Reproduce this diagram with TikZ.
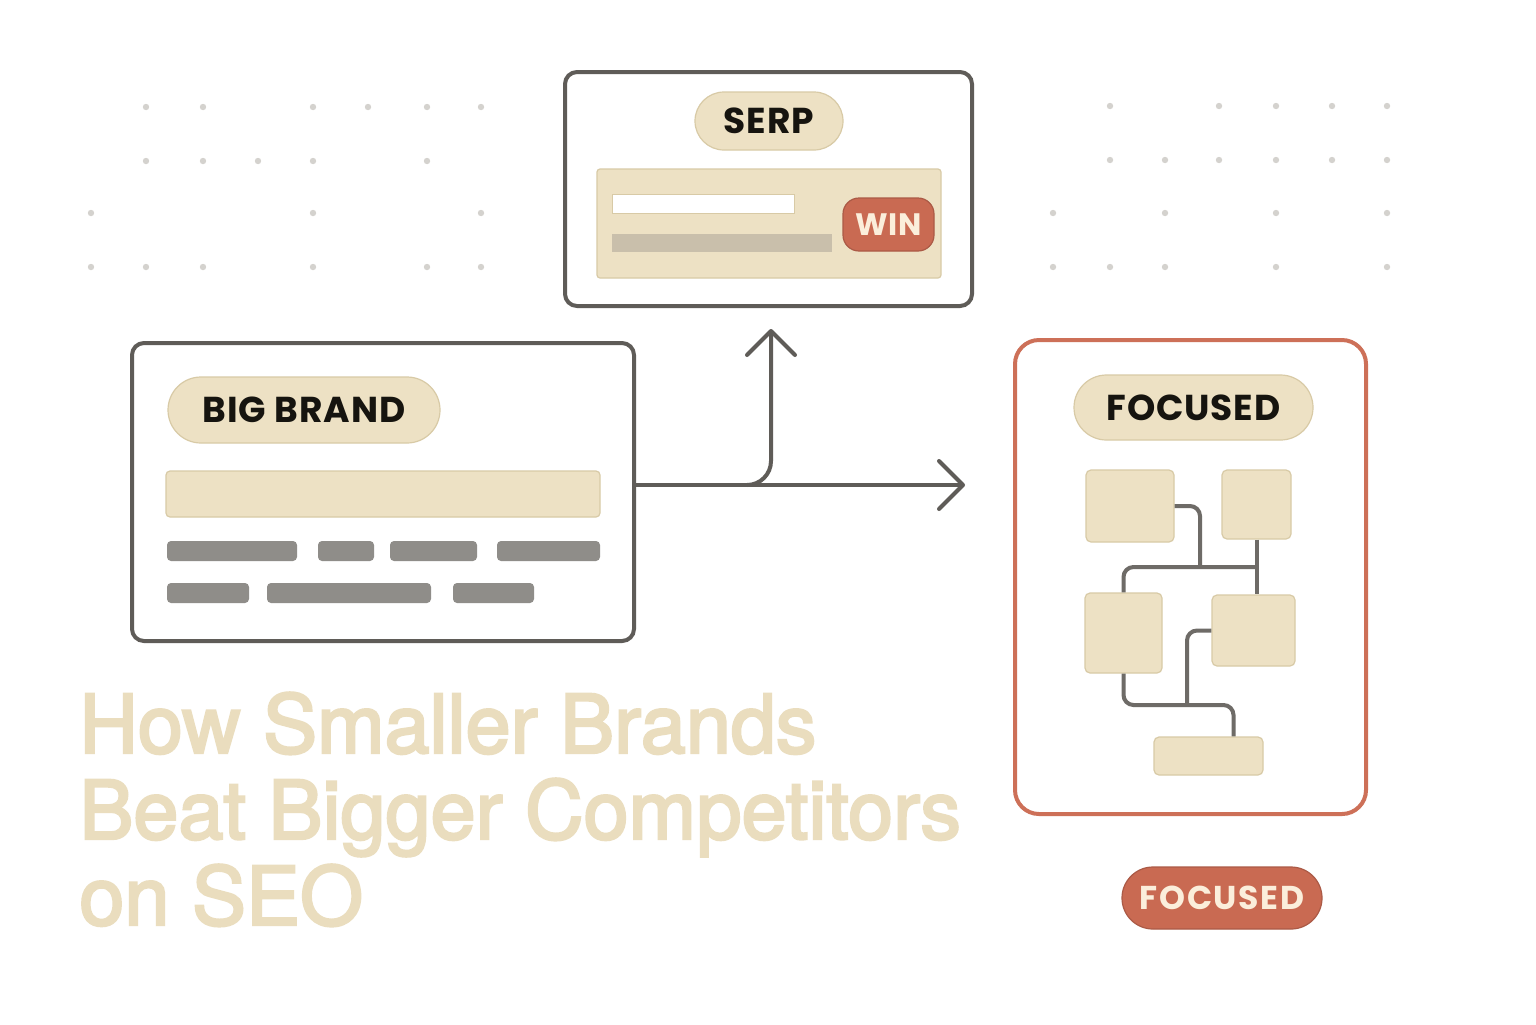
\documentclass[tikz,border=0pt]{standalone}
\usepackage{fontspec}
\setmainfont{TeX Gyre Heros}
\newfontfamily\labelfont[LetterSpace=2.5]{Poppins}
\newfontfamily\titlefont[FakeBold=3]{TeX Gyre Heros}
\usetikzlibrary{shapes.misc, arrows.meta, positioning}
\definecolor{edgegray}{HTML}{5F5C58}
\definecolor{wire}{HTML}{6E6B67}
\definecolor{sand}{HTML}{EDE1C4}
\definecolor{sandedge}{HTML}{D8CAA6}
\definecolor{barfill}{HTML}{8F8D89}
\definecolor{serpgray}{HTML}{C9BFAB}
\definecolor{rust}{HTML}{C96A52}
\definecolor{rustedge}{HTML}{CD7058}
\definecolor{cream}{HTML}{FBEEDB}
\definecolor{ink}{HTML}{16140F}
\definecolor{dotgray}{HTML}{D4D2CE}
\definecolor{titlesand}{HTML}{EADDBE}
\tikzset{
  panel/.style={draw=edgegray, line width=2pt, rounded corners=6pt, fill=white, inner sep=0pt},
  labeltag/.style={rounded rectangle, fill=sand, draw=sandedge, line width=0.6pt, inner sep=0pt, text=ink, font=\labelfont\bfseries\fontsize{18}{18}\selectfont},
  redtag/.style={fill=rust, draw=rust!85!black, line width=0.6pt, inner sep=0pt, text=cream, font=\labelfont\bfseries\fontsize{15.5}{15.5}\selectfont},
  greybar/.style={fill=barfill, rounded corners=2pt, inner sep=0pt, minimum height=10pt},
  block/.style={fill=sand, draw=sandedge, line width=0.6pt, rounded corners=2.5pt, inner sep=0pt},
  flow/.style={draw=edgegray, line width=2pt, -{Straight Barb[length=12pt, width=24pt, round]}},
  link/.style={draw=wire, line width=2pt, rounded corners=5pt},
  griddot/.style={fill=dotgray}
}

\begin{document}
\begin{tikzpicture}[x=0.5pt, y=-0.5pt]
  \useasboundingbox[fill=white] (0,0) rectangle (1536,1024);

  % Dot grids
  \foreach \px/\py in {146/107, 203/107, 313/107, 368/107, 427/107, 481/107, 146/161, 203/161, 258/161, 313/161, 427/161, 91/213, 313/213, 481/213, 91/267, 146/267, 203/267, 313/267, 427/267, 481/267}
    \fill[griddot] (\px,\py) circle[radius=1.6pt];
  \foreach \px/\py in {1110/106, 1219/106, 1276/106, 1332/106, 1387/106, 1110/160, 1165/160, 1219/160, 1276/160, 1332/160, 1387/160, 1053/213, 1165/213, 1276/213, 1387/213, 1053/267, 1110/267, 1165/267, 1276/267, 1387/267}
    \fill[griddot] (\px,\py) circle[radius=1.6pt];

  % SERP card
  \node[panel, minimum width=203.5pt, minimum height=117pt] (serp) at (768.5,189) {};
  \node[labeltag, minimum width=74pt, minimum height=29pt] (serptag) at (769,121) {SERP};
  \node[fill=sand, draw=sandedge, line width=0.6pt, rounded corners=1.5pt, inner sep=0pt, minimum width=172pt, minimum height=54.5pt] (result) at (769,223.5) {};
  \node[fill=white, draw=sandedge, line width=0.5pt, inner sep=0pt, minimum width=91pt, minimum height=9.5pt] (resulttitle) at (703,203.5) {};
  \node[fill=serpgray, inner sep=0pt, minimum width=110pt, minimum height=9pt] (resulttext) at (722,243) {};
  \node[redtag, rounded corners=8pt, minimum width=45.5pt, minimum height=26.5pt] (win) at (888.5,224.5) {WIN};

  % Big brand card
  \node[panel, minimum width=251pt, minimum height=149pt] (bigbrand) at (383,492) {};
  \node[labeltag, minimum width=136pt, minimum height=33pt] (bigtag) at (304,410) {BIG BRAND};
  \node[block, rounded corners=2pt, minimum width=217pt, minimum height=23pt] (headline) at (383,494) {};
  \node[greybar, minimum width=65pt] (line1a) at (232,551) {};
  \node[greybar, minimum width=28pt] (line1b) at (346,551) {};
  \node[greybar, minimum width=43.5pt] (line1c) at (433.5,551) {};
  \node[greybar, minimum width=51.5pt] (line1d) at (548.5,551) {};
  \node[greybar, minimum width=41pt] (line2a) at (208,593) {};
  \node[greybar, minimum width=82pt] (line2b) at (349,593) {};
  \node[greybar, minimum width=40.5pt] (line2c) at (493.5,593) {};

  % Focused card
  \node[panel, draw=rustedge, rounded corners=12pt, minimum width=175.5pt, minimum height=237pt] (focused) at (1190.5,577) {};
  \node[labeltag, minimum width=119.5pt, minimum height=32.5pt] (focustag) at (1193.5,407.5) {FOCUSED};
  \node[block, minimum width=44pt, minimum height=36pt] (ba) at (1130,506) {};
  \node[block, minimum width=34.5pt, minimum height=34.5pt] (bb) at (1256.5,504.5) {};
  \node[block, minimum width=38.5pt, minimum height=40pt] (bc) at (1123.5,633) {};
  \node[block, minimum width=41.5pt, minimum height=35.5pt] (bd) at (1253.5,630.5) {};
  \node[block, minimum width=54.5pt, minimum height=19pt] (be) at (1208.5,756) {};
  \coordinate (topbus) at (1200,567);
  \coordinate (lowbus) at (1187,705);
  \draw[link] (ba.east) -| (topbus);
  \draw[link] (bc.north) |- (bb.south |- topbus);
  \draw[link] (bb.south) -- (bb.south |- bd.north);
  \draw[link] (bd.west) -| (lowbus);
  \draw[link] (bc.south) |- ([xshift=12.5pt]be.north |- lowbus) -- ([xshift=12.5pt]be.north);

  % Arrows
  \coordinate (fork) at (747,485);
  \coordinate (uptip) at (771,329);
  \coordinate (fwdtip) at (965,485);
  \draw[flow] (bigbrand.east |- fork) -- (fwdtip);
  \draw[flow, rounded corners=12pt] (fork) -| (uptip);

  % Title
  \node[anchor=north west, inner sep=0pt, align=left, text=titlesand, font=\titlefont\fontsize{40.5}{43}\selectfont] (title) at (79,692) {How Smaller Brands\\Beat Bigger Competitors\\on SEO};

  % Bottom tag
  \node[redtag, rounded rectangle, font=\labelfont\bfseries\fontsize{16.5}{16.5}\addfontfeature{LetterSpace=5}\selectfont, minimum width=100pt, minimum height=31pt] (focusbadge) at (1222,898) {FOCUSED};
\end{tikzpicture}
\end{document}
